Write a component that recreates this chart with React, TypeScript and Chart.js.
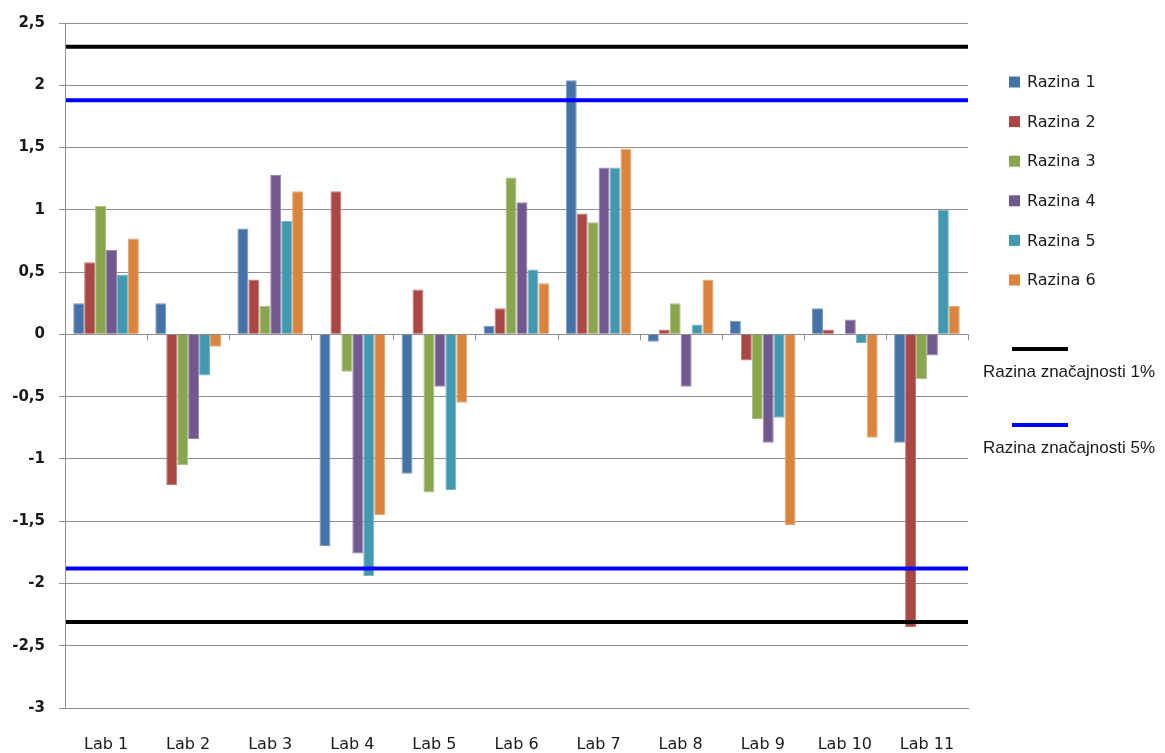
import React, { useEffect, useRef } from "react";
import { Chart, registerables } from "chart.js";

Chart.register(...registerables);

const categories = ["Lab 1", "Lab 2", "Lab 3", "Lab 4", "Lab 5", "Lab 6", "Lab 7", "Lab 8", "Lab 9", "Lab 10", "Lab 11"];
const seriesNames = ["Razina 1", "Razina 2", "Razina 3", "Razina 4", "Razina 5", "Razina 6"];
const razina1 = [0.25, 0.25, 0.85, -1.7, -1.12, 0.07, 2.04, -0.06, 0.11, 0.21, -0.87];
const razina2 = [0.58, -1.21, 0.44, 1.15, 0.36, 0.21, 0.97, 0.04, -0.21, 0.04, -2.35];
const razina3 = [1.03, -1.05, 0.23, -0.3, -1.27, 1.26, 0.9, 0.25, -0.68, 0, -0.36];
const razina4 = [0.68, -0.84, 1.28, -1.76, -0.42, 1.06, 1.34, -0.42, -0.87, 0.12, -0.17];
const razina5 = [0.48, -0.33, 0.91, -1.94, -1.25, 0.52, 1.34, 0.08, -0.67, -0.07, 1.0];
const razina6 = [0.77, -0.1, 1.15, -1.45, -0.55, 0.41, 1.49, 0.44, -1.53, -0.83, 0.23];
const seriesValues = [razina1, razina2, razina3, razina4, razina5, razina6];
const seriesColors = ["#4572A7", "#AA4643", "#89A54E", "#71588F", "#4198AF", "#DB843D"];
const seriesBorders = ["#7896c0", "#c27a78", "#a8bf80", "#9684ab", "#7ab6c7", "#e6a673"];

const thresholdNames = ["Razina značajnosti 1%", "Razina značajnosti 5%"];
const thresholdValues = [2.31, 1.88];
const thresholdColors = ["#000000", "#0000FF"];

const yMin = -3;
const yMax = 2.5;
const yStep = 0.5;

const overlayPlugin = {
  id: "overlay",
  afterDatasetsDraw(chart: any) {
    const { ctx, chartArea, scales } = chart;
    const y = scales.y;
    const x = scales.x;
    ctx.save();
    const y0 = y.getPixelForValue(0);
    ctx.strokeStyle = "#8f8f8f";
    ctx.lineWidth = 1;
    for (let i = 0; i < categories.length; i++) {
      const bx = i < categories.length - 1
        ? (x.getPixelForValue(i) + x.getPixelForValue(i + 1)) / 2
        : chartArea.right;
      ctx.beginPath();
      ctx.moveTo(Math.round(bx) + 0.5, y0);
      ctx.lineTo(Math.round(bx) + 0.5, y0 + 6);
      ctx.stroke();
    }
    thresholdValues.forEach((v, i) => {
      ctx.strokeStyle = thresholdColors[i];
      ctx.lineWidth = 4;
      [v, -v].forEach((val) => {
        const py = y.getPixelForValue(val);
        ctx.beginPath();
        ctx.moveTo(chartArea.left + 1, py);
        ctx.lineTo(chartArea.right, py);
        ctx.stroke();
      });
    });
    ctx.restore();
  },
  afterDraw(chart: any) {
    const { ctx } = chart;
    ctx.save();
    ctx.textBaseline = "middle";
    ctx.textAlign = "left";
    ctx.font = '16px "DejaVu Sans"';
    seriesNames.forEach((name, i) => {
      const cy = 82 + i * 39.6;
      ctx.fillStyle = seriesColors[i];
      ctx.fillRect(1009, cy - 5.5, 11, 11);
      ctx.fillStyle = "#1a1a1a";
      ctx.fillText(name, 1027, cy + 1);
    });
    ctx.font = '17px "Liberation Sans"';
    ctx.textAlign = "center";
    thresholdNames.forEach((name, i) => {
      const ly = 349 + i * 76;
      ctx.strokeStyle = thresholdColors[i];
      ctx.lineWidth = 4;
      ctx.beginPath();
      ctx.moveTo(1012, ly);
      ctx.lineTo(1068, ly);
      ctx.stroke();
      ctx.fillStyle = "#1a1a1a";
      ctx.fillText(name, 1069, ly + 23);
    });
    ctx.restore();
  },
};

export default function App() {
  const canvasRef = useRef<HTMLCanvasElement | null>(null);

  useEffect(() => {
    if (!canvasRef.current) return;
    const chart = new Chart(canvasRef.current, {
      type: "bar",
      data: {
        labels: categories,
        datasets: seriesNames.map((name, i) => ({
          label: name,
          data: seriesValues[i],
          backgroundColor: seriesColors[i],
          borderColor: seriesBorders[i],
          borderWidth: 1,
          categoryPercentage: 0.8,
          barPercentage: 1.0,
        })),
      },
      options: {
        responsive: false,
        animation: false,
        layout: { padding: { top: 23, right: 197, left: 0, bottom: 0 } },
        plugins: {
          legend: { display: false },
          tooltip: { enabled: false },
        },
        scales: {
          x: {
            grid: { display: false, drawTicks: false },
            border: { display: true, color: "#8f8f8f", width: 1 },
            ticks: {
              padding: 27,
              color: "#1a1a1a",
              font: { family: "DejaVu Sans", size: 16 },
            },
            afterFit: (scale: any) => {
              scale.height = 45;
            },
          },
          y: {
            min: yMin,
            max: yMax,
            grid: { color: "#8f8f8f", lineWidth: 1, drawTicks: true, tickLength: 6 },
            border: { display: true, color: "#8f8f8f", width: 1 },
            ticks: {
              stepSize: yStep,
              padding: 14,
              color: "#1a1a1a",
              font: { family: "DejaVu Sans", size: 15, weight: "bold" },
              callback: (v: any) => String(Math.round(Number(v) * 10) / 10).replace(".", ","),
            },
            afterFit: (scale: any) => {
              scale.width = 65;
            },
          },
        },
      },
      plugins: [overlayPlugin],
    });
    return () => chart.destroy();
  }, []);

  return (
    <div style={{ position: "absolute", left: 0, top: 0, width: 1165, height: 753, background: "#fff" }}>
      <canvas ref={canvasRef} width={1165} height={753} />
    </div>
  );
}
